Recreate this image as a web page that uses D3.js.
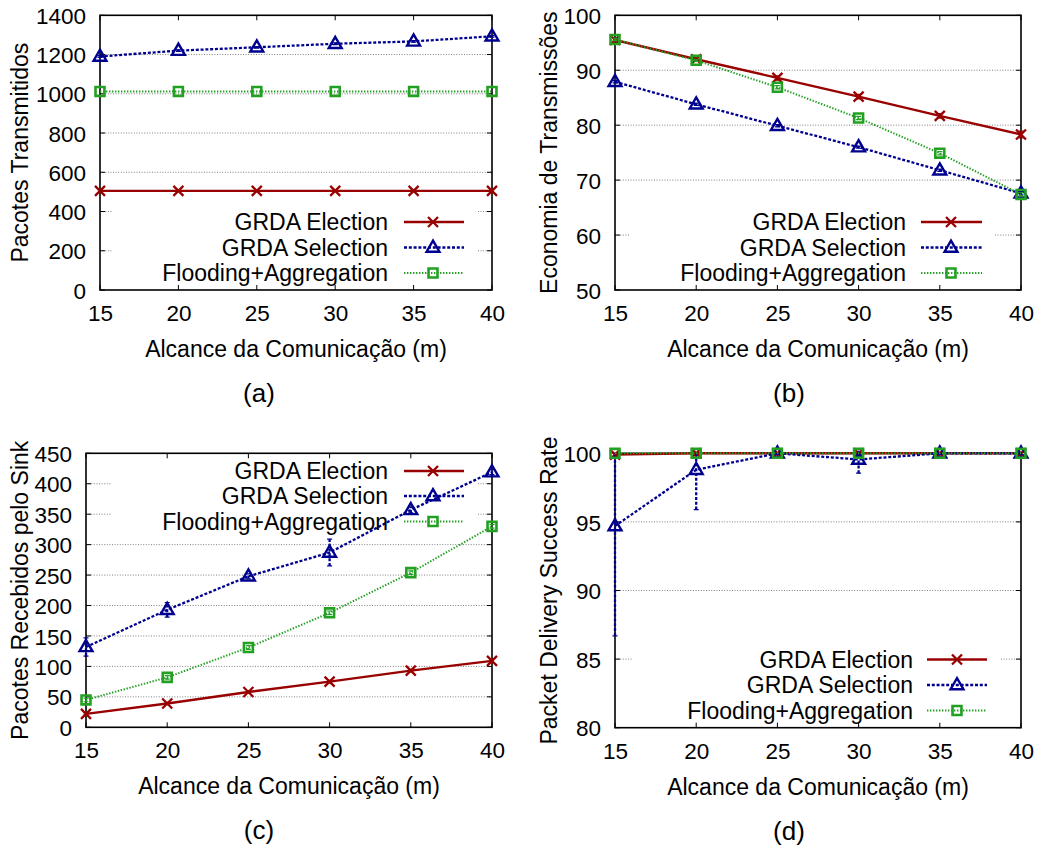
<!DOCTYPE html>
<html><head><meta charset="utf-8">
<script src="https://cdn.jsdelivr.net/npm/d3@7"></script>
<style>
body{margin:0;background:#fff}
svg{display:block}
text{font-family:"Liberation Sans",Arial,Helvetica,sans-serif;fill:#000}
</style>
</head><body>
<svg id="chart" width="1039" height="849"></svg>
<script>
// ---------- data ----------
const ranges = [15, 20, 25, 30, 35, 40];
const xTickLabels = ["15", "20", "25", "30", "35", "40"];
const seriesNames = ["GRDA Election", "GRDA Selection", "Flooding+Aggregation"];
const xAxisTitle = "Alcance da Comunicação (m)";

// (a) Pacotes Transmitidos
const aYTicks = [0, 200, 400, 600, 800, 1000, 1200, 1400];
const aElection = [505, 505, 505, 505, 505, 505];
const aSelection = [1190, 1220, 1237, 1255, 1267, 1293];
const aFlooding = [1012, 1012, 1012, 1012, 1012, 1012];
const aElectionErr = [0, 0, 0, 0, 0, 0];
const aSelectionErr = [4, 4, 4, 4, 4, 4];
const aFloodingErr = [0, 0, 0, 0, 0, 0];

// (b) Economia de Transmissões
const bYTicks = [50, 60, 70, 80, 90, 100];
const bElection = [95.5, 92.0, 88.6, 85.2, 81.7, 78.3];
const bSelection = [87.9, 83.8, 79.9, 76.0, 71.8, 67.6];
const bFlooding = [95.6, 91.8, 86.9, 81.3, 74.9, 67.4];
const bElectionErr = [0.3, 0.3, 0.4, 0.4, 0.4, 0.6];
const bSelectionErr = [0.2, 0.2, 0.2, 0.2, 0.2, 0.3];
const bFloodingErr = [0.2, 0.2, 0.3, 0.3, 0.3, 0.3];

// (c) Pacotes Recebidos pelo Sink
const cYTicks = [0, 50, 100, 150, 200, 250, 300, 350, 400, 450];
const cElection = [22, 39, 58, 75, 93, 109];
const cSelection = [132, 193, 248, 287, 357, 419];
const cFlooding = [45, 82, 131, 188, 254, 330];
const cElectionErr = [2, 2, 2, 2, 2, 3];
const cSelectionErr = [15, 12, 4, 22, 5, 4];
const cFloodingErr = [3, 3, 3, 3, 3, 3];

// (d) Packet Delivery Success Rate
const dYTicks = [80, 85, 90, 95, 100];
const dElection = [99.9, 100, 100, 100, 100, 100];
const dSelection = [94.7, 98.8, 100, 99.55, 100, 100];
const dFlooding = [100, 100, 100, 100, 100, 100];
const dElectionErr = [0, 0, 0, 0, 0, 0];
const dSelectionErr = [8.0, 2.9, 0.1, 1.0, 0.1, 0.1];
const dFloodingErr = [0, 0, 0, 0, 0, 0];

// ---------- styles / layout ----------
const styles = [
  {color: "#990000", dash: null, width: 2.4, marker: "x"},
  {color: "#00008f", dash: "3,1.8", width: 2.3, marker: "tri"},
  {color: "#22a022", dash: "1.4,1.6", width: 2, marker: "sq"}
];

const panels = [
  {caption: "(a)", yTitle: "Pacotes Transmitidos", yTicks: aYTicks,
   series: [aElection, aSelection, aFlooding], errors: [aElectionErr, aSelectionErr, aFloodingErr],
   box: {l: 100, r: 492, t: 15.3, b: 290}, yTitleX: 28, captionX: 259,
   key: {x1: 112, x2: 478, y1: 207, y2: 290, textR: 388, l1: 404, l2: 464, m: 433, rows: [222, 247.5, 273]}},
  {caption: "(b)", yTitle: "Economia de Transmissões", yTicks: bYTicks,
   series: [bElection, bSelection, bFlooding], errors: [bElectionErr, bSelectionErr, bFloodingErr],
   box: {l: 615, r: 1021, t: 15.3, b: 290}, yTitleX: 557, captionX: 789,
   key: {x1: 630, x2: 995, y1: 207, y2: 290, textR: 906, l1: 921, l2: 982, m: 951, rows: [222, 247.5, 273]}},
  {caption: "(c)", yTitle: "Pacotes Recebidos pelo Sink", yTicks: cYTicks,
   series: [cElection, cSelection, cFlooding], errors: [cElectionErr, cSelectionErr, cFloodingErr],
   box: {l: 86, r: 492, t: 453.3, b: 727.3}, yTitleX: 28, captionX: 259,
   key: {x1: 112, x2: 478, y1: 453, y2: 535, textR: 388, l1: 404, l2: 464, m: 433, rows: [471, 496, 521.5]}},
  {caption: "(d)", yTitle: "Packet Delivery Success Rate", yTicks: dYTicks,
   series: [dElection, dSelection, dFlooding], errors: [dElectionErr, dSelectionErr, dFloodingErr],
   box: {l: 615, r: 1021, t: 453.3, b: 727.7}, yTitleX: 557, captionX: 789,
   key: {x1: 633, x2: 1001, y1: 645, y2: 727, textR: 913, l1: 927, l2: 987, m: 957, rows: [659.5, 685, 710.5]}}
];

const svg = d3.select("#chart");
const defs = svg.append("defs");

function drawMarker(g, type, x, y, color) {
  if (type === "x") {
    const s = 5;
    g.append("path").attr("d", `M${x - s},${y - s}L${x + s},${y + s}M${x - s},${y + s}L${x + s},${y - s}`)
      .attr("stroke", color).attr("stroke-width", 2.3).attr("fill", "none");
  } else if (type === "tri") {
    g.append("path").attr("d", d3.symbol().type(d3.symbolTriangle).size(72)())
      .attr("transform", `translate(${x},${y + 0.5})`)
      .attr("stroke", color).attr("stroke-width", 2.4).attr("fill", "none");
  } else {
    g.append("path").attr("d", d3.symbol().type(d3.symbolSquare).size(80)())
      .attr("transform", `translate(${x},${y})`)
      .attr("stroke", color).attr("stroke-width", 2.6).attr("fill", "none");
  }
}

panels.forEach((p, pi) => {
  const B = p.box;
  const x = d3.scaleLinear().domain([ranges[0], ranges[ranges.length - 1]]).range([B.l, B.r]);
  const y = d3.scaleLinear().domain([p.yTicks[0], p.yTicks[p.yTicks.length - 1]]).range([B.b, B.t]);
  const g = svg.append("g");
  const K = p.key;

  defs.append("clipPath").attr("id", "clip" + pi).append("rect")
    .attr("x", B.l - 10).attr("y", B.t).attr("width", B.r - B.l + 20).attr("height", B.b - B.t);

  // grid (skipping key area)
  p.yTicks.slice(1, -1).forEach(v => {
    const yy = y(v);
    const segs = (yy >= K.y1 && yy <= K.y2) ? [[B.l, K.x1], [K.x2, B.r]] : [[B.l, B.r]];
    segs.forEach(s => g.append("line").attr("x1", s[0]).attr("x2", s[1]).attr("y1", yy).attr("y2", yy)
      .attr("stroke", "#808080").attr("stroke-width", 1).attr("stroke-dasharray", "1,1.6"));
  });

  // axes via d3
  const yAxisL = d3.axisLeft(y).tickValues(p.yTicks).tickSize(0).tickPadding(14).tickFormat(d3.format("d"));
  const ga = g.append("g").attr("transform", `translate(${B.l},0)`).call(yAxisL);
  ga.select(".domain").remove();
  ga.selectAll("text").attr("font-size", 22.5).attr("font-family", "Liberation Sans, Arial, sans-serif").attr("dy", "0.36em");

  const xAxisB = d3.axisBottom(x).tickValues(ranges).tickSize(0).tickPadding(0).tickFormat((d, i) => xTickLabels[i]);
  const gx = g.append("g").attr("transform", `translate(0,${B.b})`).call(xAxisB);
  gx.select(".domain").remove();
  gx.selectAll("text").attr("font-size", 22.5).attr("font-family", "Liberation Sans, Arial, sans-serif").attr("dy", null).attr("y", 31);

  // inward ticks on all sides
  const tl = 5;
  ranges.forEach(v => {
    g.append("line").attr("x1", x(v)).attr("x2", x(v)).attr("y1", B.b).attr("y2", B.b - tl).attr("stroke", "#000").attr("stroke-width", 1);
    g.append("line").attr("x1", x(v)).attr("x2", x(v)).attr("y1", B.t).attr("y2", B.t + tl).attr("stroke", "#000").attr("stroke-width", 1);
  });
  p.yTicks.forEach(v => {
    g.append("line").attr("x1", B.l).attr("x2", B.l + tl).attr("y1", y(v)).attr("y2", y(v)).attr("stroke", "#000").attr("stroke-width", 1);
    g.append("line").attr("x1", B.r).attr("x2", B.r - tl).attr("y1", y(v)).attr("y2", y(v)).attr("stroke", "#000").attr("stroke-width", 1);
  });

  // frame
  g.append("rect").attr("x", B.l).attr("y", B.t).attr("width", B.r - B.l).attr("height", B.b - B.t)
    .attr("fill", "none").attr("stroke", "#000").attr("stroke-width", 1.6);

  // titles
  g.append("text").attr("x", (B.l + B.r) / 2).attr("y", B.b + 67).attr("text-anchor", "middle")
    .attr("font-size", 23).text(xAxisTitle);
  g.append("text").attr("transform", `translate(${p.yTitleX},${(B.t + B.b) / 2}) rotate(-90)`)
    .attr("text-anchor", "middle").attr("font-size", 23).text(p.yTitle);
  g.append("text").attr("x", p.captionX).attr("y", B.b + 112).attr("text-anchor", "middle")
    .attr("font-family", "Liberation Serif, DejaVu Serif, serif").attr("font-size", 26).text(p.caption);

  // series (drawn over the frame)
  p.series.forEach((vals, si) => {
    const st = styles[si];
    const line = d3.line().x((d, i) => x(ranges[i])).y(d => y(d));
    const sg = g.append("g");
    sg.append("path").datum(vals).attr("d", line).attr("fill", "none")
      .attr("stroke", st.color).attr("stroke-width", st.width)
      .attr("stroke-dasharray", st.dash);
    // error bars
    const eg = sg.append("g").attr("clip-path", `url(#clip${pi})`);
    vals.forEach((v, i) => {
      const e = p.errors[si][i];
      if (!e) return;
      const xx = x(ranges[i]);
      eg.append("line").attr("x1", xx).attr("x2", xx).attr("y1", y(v - e)).attr("y2", y(v + e))
        .attr("stroke", st.color).attr("stroke-width", st.width).attr("stroke-dasharray", st.dash);
      [v - e, v + e].forEach(ev => eg.append("line").attr("x1", xx - 2.5).attr("x2", xx + 2.5)
        .attr("y1", y(ev)).attr("y2", y(ev)).attr("stroke", st.color).attr("stroke-width", 1.2));
    });
    vals.forEach((v, i) => drawMarker(sg, st.marker, x(ranges[i]), y(v), st.color));

    // key entry
    const ry = K.rows[si];
    g.append("text").attr("x", K.textR).attr("y", ry + 8).attr("text-anchor", "end")
      .attr("font-size", 23).text(seriesNames[si]);
    g.append("line").attr("x1", K.l1).attr("x2", K.l2).attr("y1", ry).attr("y2", ry)
      .attr("stroke", st.color).attr("stroke-width", st.width).attr("stroke-dasharray", st.dash);
    drawMarker(g, st.marker, K.m, ry, st.color);
  });
});
</script>
</body></html>
